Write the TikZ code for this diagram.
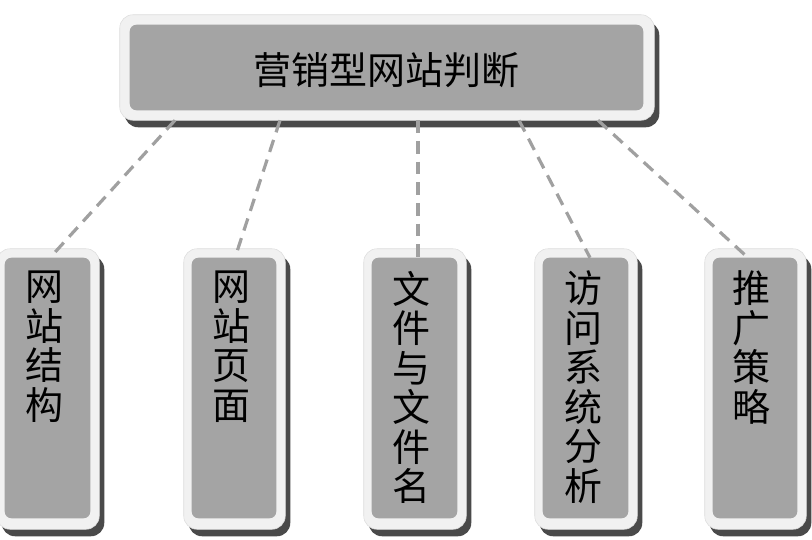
\documentclass[tikz,border=0pt]{standalone}
\usepackage{fontspec}
\setmainfont{Noto Sans CJK SC}
\usetikzlibrary{fit}
\definecolor{innergray}{HTML}{A4A4A4}
\definecolor{framegray}{HTML}{F1F1F1}
\definecolor{frameedge}{HTML}{DDDDDD}
\definecolor{shadowgray}{HTML}{4A4A4A}
\definecolor{linegray}{HTML}{A0A0A0}
\tikzset{
  innerbox/.style={fill=innergray, draw=none, inner sep=0pt, rounded corners=5pt},
  framebox/.style={fill=framegray, draw=frameedge, line width=0.4pt, rounded corners=10pt},
  shadowbox/.style={fill=shadowgray, draw=none, rounded corners=10pt},
  conn/.style={draw=linegray, line width=2.4pt, dash pattern=on 9.5pt off 6pt},
  cjktext/.style={font={\fontsize{28.5}{29.6}\selectfont}, text=black, inner sep=0pt},
  vtext/.style={cjktext, align=center, anchor=north},
}
% decoration around a named inner node: left, top, right, bottom margins (px)
\newcommand\boxdeco[5]{%
  \fill[shadowbox] ([shift={(-#2+5,-#3+7)}]#1.north west) rectangle ([shift={(#4+5,#5+7)}]#1.south east);
  \draw[framebox] ([shift={(-#2,-#3)}]#1.north west) rectangle ([shift={(#4,#5)}]#1.south east);
}
\begin{document}
\begin{tikzpicture}[x=0.75pt,y=-0.75pt]
\useasboundingbox (0,0) rectangle (812,539);
% inner node geometry (invisible first, to place decorations)
\path
  node[inner sep=0pt, fit={(130,25) (643,110)}] (t) {}
  node[inner sep=0pt, fit={(5,258) (90,518)}] (b1) {}
  node[inner sep=0pt, fit={(192,258) (276,518)}] (b2) {}
  node[inner sep=0pt, fit={(372,258) (457,518)}] (b3) {}
  node[inner sep=0pt, fit={(543,258) (628,518)}] (b4) {}
  node[inner sep=0pt, fit={(713,258) (797,518)}] (b5) {};
% frames and shadows
\boxdeco{t}{10}{10}{11}{10}
\foreach \b in {b1,b2,b3,b4,b5} {\boxdeco{\b}{8}{9}{9}{11}}
% inner boxes
\foreach \b in {t,b1,b2,b3,b4,b5} {\fill[innerbox] (\b.north west) rectangle (\b.south east);}
% connectors
\draw[conn] ([shift={(-211.5,10)}]t.south) -- ([shift={(2.5,0)}]b1.north);
\draw[conn] ([shift={(-106.5,10)}]t.south) -- ([shift={(1,0)}]b2.north);
\draw[conn] ([shift={(31.5,10)}]t.south) -- ([shift={(3.5,0)}]b3.north);
\draw[conn] ([shift={(132.5,10)}]t.south) -- ([shift={(4.5,0)}]b4.north);
\draw[conn] ([shift={(211.5,10)}]t.south) -- ([shift={(-7,0)}]b5.north);
% texts
\node[cjktext] (tt) at (386.5,70) {营销型网站判断};
\node[vtext] (b1t) at ([shift={(-3,13)}]b1.north) {网\\站\\结\\构};
\node[vtext] (b2t) at ([shift={(-3,13)}]b2.north) {网\\站\\页\\面};
\node[vtext] (b3t) at ([shift={(-3,13)}]b3.north) {文\\件\\与\\文\\件\\名};
\node[vtext] (b4t) at ([shift={(-2,13)}]b4.north) {访\\问\\系\\统\\分\\析};
\node[vtext] (b5t) at ([shift={(-4,13)}]b5.north) {推\\广\\策\\略};
\end{tikzpicture}
\end{document}
